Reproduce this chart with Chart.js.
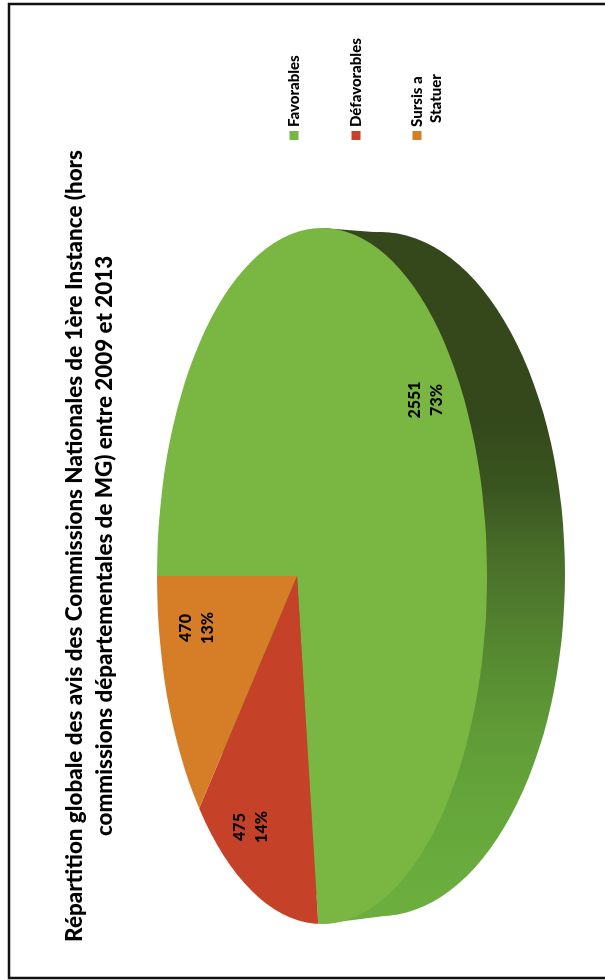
<!DOCTYPE html>
<html>
<head>
<meta charset="utf-8">
<title>Répartition globale des avis</title>
<script src="https://cdn.jsdelivr.net/npm/chart.js@4"></script>
<style>
  html, body { margin: 0; padding: 0; background: #fff; overflow: hidden; }
  #pie { position: absolute; left: 0; top: 980px; transform-origin: 0 0; transform: rotate(-90deg); }
</style>
</head>
<body>
<canvas id="pie" width="980" height="605"></canvas>
<script>
const CATEGORIES = ['Favorables', 'Défavorables', 'Sursis a Statuer'];
const LEGEND_LINES = [['Favorables'], ['Défavorables'], ['Sursis a', 'Statuer']];
const VALUES = [2551, 475, 470];
const COLORS = ['#79b642', '#c54127', '#d57e27'];
const TITLE_LINES = [
  'Répartition globale des avis des Commissions Nationales de 1ère Instance (hors',
  'commissions départementales de MG) entre 2009 et 2013'
];
const FONT = 'Lato';

// the canvas is turned a quarter turn by css, so page (x, y) = (canvas y, 980 - canvas x)
const APEX = { x: 404, y: 297 };
const TOP_FACE = { x: 404, y: 322, rx: 348, ry: 165 };
const SIDE_FACE = { x: 406, y: 380, rx: 342, ry: 185 };
const LABEL_SPOTS = [{ x: 580, y: 426 }, { x: 153, y: 251 }, { x: 352, y: 197 }];
const LEGEND_Y = [294, 356, 417];

const sideGradient = (ctx) => {
  const g = ctx.createLinearGradient(560, 0, 60, 0);
  g.addColorStop(0, '#34481b');
  g.addColorStop(0.14, '#3a5620');
  g.addColorStop(0.28, '#4a6f2a');
  g.addColorStop(0.48, '#568b31');
  g.addColorStop(0.61, '#5f9a36');
  g.addColorStop(0.76, '#65a53a');
  g.addColorStop(0.96, '#6bae3e');
  return g;
}

const pieFacePlugin = {
  id: 'pieFace',
  beforeDraw(chart) {
    const ctx = chart.ctx;
    ctx.save();
    ctx.fillStyle = '#fff';
    ctx.fillRect(0, 0, chart.width, chart.height);
    ctx.strokeStyle = '#111';
    ctx.lineWidth = 2.5;
    ctx.strokeRect(2, 9, 974, 700);
    ctx.restore();
  },
  beforeDatasetsDraw(chart) {
    const ctx = chart.ctx;
    const arc = chart.getDatasetMeta(0).data[0];
    // side wall of the disc
    ctx.save();
    ctx.fillStyle = sideGradient(ctx);
    ctx.beginPath();
    ctx.ellipse(SIDE_FACE.x, SIDE_FACE.y, SIDE_FACE.rx, SIDE_FACE.ry, 0, 0, Math.PI * 2);
    ctx.fill();
    // join both outlines near the tangent points, otherwise a notch shows
    ctx.beginPath();
    ctx.moveTo(TOP_FACE.x + TOP_FACE.rx, TOP_FACE.y);
    ctx.lineTo(SIDE_FACE.x + SIDE_FACE.rx * 0.994, SIDE_FACE.y + 20);
    ctx.lineTo(SIDE_FACE.x - SIDE_FACE.rx * 0.994, SIDE_FACE.y + 20);
    ctx.lineTo(TOP_FACE.x - TOP_FACE.rx, TOP_FACE.y);
    ctx.closePath();
    ctx.fill();
    ctx.restore();
    // top face: slices are stretched from the apex and cut by the face outline
    ctx.save();
    ctx.beginPath();
    ctx.ellipse(TOP_FACE.x, TOP_FACE.y, TOP_FACE.rx, TOP_FACE.ry, 0, 0, Math.PI * 2);
    ctx.clip();
    const k = 1.25 / arc.outerRadius;
    ctx.translate(APEX.x, APEX.y);
    ctx.scale(k * TOP_FACE.rx, k * TOP_FACE.ry);
    ctx.translate(-arc.x, -arc.y);
  },
  afterDatasetsDraw(chart) {
    chart.ctx.restore();
  },
  afterDraw(chart) {
    const ctx = chart.ctx;
    const total = VALUES.reduce((a, b) => a + b, 0);
    ctx.save();
    ctx.fillStyle = '#000';
    ctx.textAlign = 'center';
    ctx.textBaseline = 'middle';
    ctx.font = '900 16px ' + FONT;
    VALUES.forEach((v, i) => {
      const spot = LABEL_SPOTS[i];
      ctx.fillText(String(v), spot.x, spot.y - 11);
      ctx.fillText(Math.round(v / total * 100) + '%', spot.x, spot.y + 11);
    });
    // legend
    ctx.textAlign = 'left';
    ctx.font = '900 15px ' + FONT;
    LEGEND_LINES.forEach((lines, i) => {
      ctx.fillStyle = COLORS[i];
      ctx.fillRect(840, LEGEND_Y[i] - 4.5, 9, 9);
      ctx.fillStyle = '#000';
      lines.forEach((line, j) => {
        ctx.fillText(line, j ? 857 : 853, LEGEND_Y[i] + j * 19);
      });
    });
    ctx.restore();
  }
};

new Chart(document.getElementById('pie'), {
  type: 'pie',
  data: {
    labels: CATEGORIES,
    datasets: [{
      data: VALUES,
      backgroundColor: COLORS,
      borderWidth: 0,
      clip: false
    }]
  },
  options: {
    responsive: false,
    animation: false,
    layout: { padding: { left: 10, right: 122, bottom: 10 } },
    plugins: {
      legend: { display: false },
      tooltip: { enabled: false },
      title: {
        display: true,
        text: TITLE_LINES,
        fullSize: false,
        color: '#000',
        font: { family: FONT, size: 22.4, weight: '900', lineHeight: 1.34 },
        padding: { top: 60, bottom: 10 }
      }
    }
  },
  plugins: [pieFacePlugin]
});
</script>
</body>
</html>
